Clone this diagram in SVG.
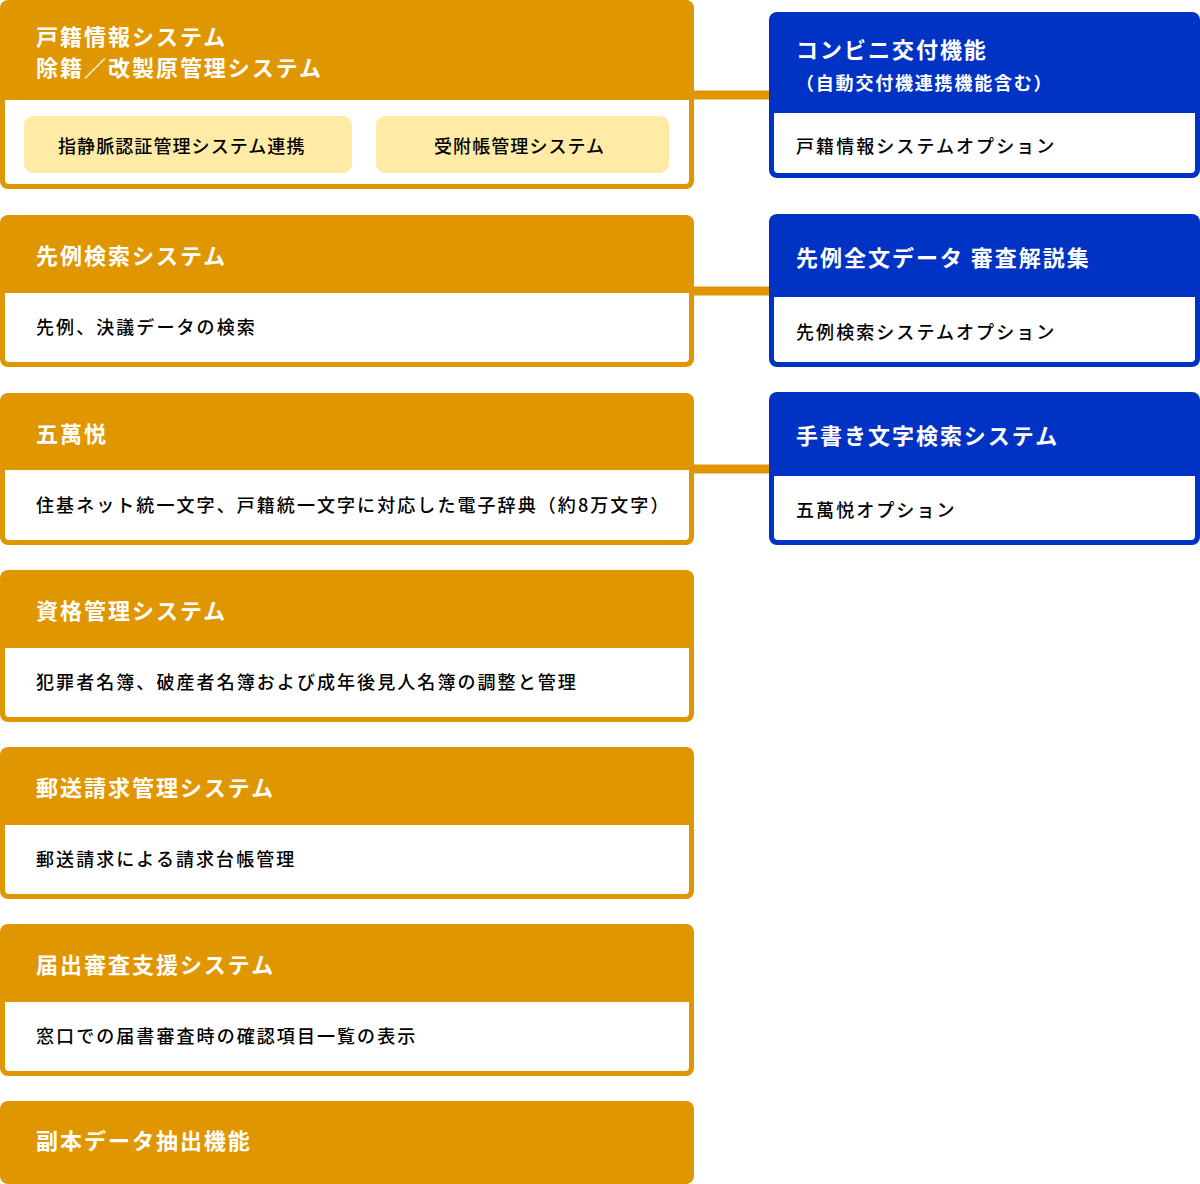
<svg xmlns="http://www.w3.org/2000/svg" width="1200" height="1184" viewBox="0 0 1200 1184">
<style>
.ob{fill:#E09600}
.bb{fill:#0033C4}
.wi{fill:#FFFFFF}
.pill{fill:#FFEBA5}
.t{font-family:"Noto Sans CJK JP","Noto Sans",sans-serif;font-weight:700;font-size:22px;fill:#FFFFFF;letter-spacing:0.09em}
.st{font-family:"Noto Sans CJK JP","Noto Sans",sans-serif;font-weight:700;font-size:18px;fill:#FFFFFF;letter-spacing:0.1em}
.b{font-family:"Noto Sans CJK JP","Noto Sans",sans-serif;font-weight:500;font-size:18px;fill:#000000;letter-spacing:0.115em}
.p{font-family:"Noto Sans CJK JP","Noto Sans",sans-serif;font-weight:500;font-size:18px;fill:#000000;letter-spacing:0.06em}
.c{stroke:#E09600;stroke-width:9;fill:none}
</style>
<rect width="1200" height="1184" fill="#FFFFFF"/>
<g id="connectors">
<line class="c" x1="690" y1="95" x2="772" y2="95"/>
<line class="c" x1="690" y1="291" x2="772" y2="291"/>
<line class="c" x1="690" y1="469" x2="772" y2="469"/>
</g>
<g id="koseki">
<rect class="ob" x="0" y="0" width="694" height="189" rx="8"/>
<path class="wi" d="M5 100H689V180A4 4 0 0 1 685 184H9A4 4 0 0 1 5 180Z"/>
<text class="t" x="36" y="45">戸籍情報システム</text>
<text class="t" x="36" y="76">除籍／改製原管理システム</text>
<rect class="pill" x="24" y="116" width="328" height="57" rx="9"/>
<text class="p" x="58" y="153">指静脈認証管理システム連携</text>
<rect class="pill" x="376" y="116" width="293" height="57" rx="9"/>
<text class="p" x="434" y="153">受附帳管理システム</text>
</g>
<g id="senrei">
<rect class="ob" x="0" y="215" width="694" height="152" rx="8"/>
<path class="wi" d="M5 293H689V358A4 4 0 0 1 685 362H9A4 4 0 0 1 5 358Z"/>
<text class="t" x="36" y="264">先例検索システム</text>
<text class="b" x="36" y="334">先例、決議データの検索</text>
</g>
<g id="gomanetsu">
<rect class="ob" x="0" y="393" width="694" height="152" rx="8"/>
<path class="wi" d="M5 470H689V536A4 4 0 0 1 685 540H9A4 4 0 0 1 5 536Z"/>
<text class="t" x="36" y="442">五萬悦</text>
<text class="b" x="36" y="512">住基ネット統一文字、戸籍統一文字に対応した電子辞典（約8万文字）</text>
</g>
<g id="shikaku">
<rect class="ob" x="0" y="570" width="694" height="152" rx="8"/>
<path class="wi" d="M5 648H689V713A4 4 0 0 1 685 717H9A4 4 0 0 1 5 713Z"/>
<text class="t" x="36" y="619">資格管理システム</text>
<text class="b" x="36" y="689">犯罪者名簿、破産者名簿および成年後見人名簿の調整と管理</text>
</g>
<g id="yuso">
<rect class="ob" x="0" y="747" width="694" height="152" rx="8"/>
<path class="wi" d="M5 825H689V890A4 4 0 0 1 685 894H9A4 4 0 0 1 5 890Z"/>
<text class="t" x="36" y="796">郵送請求管理システム</text>
<text class="b" x="36" y="866">郵送請求による請求台帳管理</text>
</g>
<g id="todokede">
<rect class="ob" x="0" y="924" width="694" height="152" rx="8"/>
<path class="wi" d="M5 1002H689V1067A4 4 0 0 1 685 1071H9A4 4 0 0 1 5 1067Z"/>
<text class="t" x="36" y="973">届出審査支援システム</text>
<text class="b" x="36" y="1043">窓口での届書審査時の確認項目一覧の表示</text>
</g>
<g id="fukuhon">
<rect class="ob" x="0" y="1101" width="694" height="83" rx="8"/>
<text class="t" x="36" y="1149">副本データ抽出機能</text>
</g>
<g id="konbini">
<rect class="bb" x="769" y="12" width="431" height="166" rx="8"/>
<path class="wi" d="M774 113H1195V169A4 4 0 0 1 1191 173H778A4 4 0 0 1 774 169Z"/>
<text class="t" x="796" y="58">コンビニ交付機能</text>
<text class="st" x="796" y="90">（自動交付機連携機能含む）</text>
<text class="b" x="796" y="153">戸籍情報システムオプション</text>
</g>
<g id="senrei-zenbun">
<rect class="bb" x="769" y="214" width="431" height="153" rx="8"/>
<path class="wi" d="M774 297H1195V358A4 4 0 0 1 1191 362H778A4 4 0 0 1 774 358Z"/>
<text class="t" x="796" y="266">先例全文データ 審査解説集</text>
<text class="b" x="796" y="339">先例検索システムオプション</text>
</g>
<g id="tegaki">
<rect class="bb" x="769" y="392" width="431" height="153" rx="8"/>
<path class="wi" d="M774 476H1195V536A4 4 0 0 1 1191 540H778A4 4 0 0 1 774 536Z"/>
<text class="t" x="796" y="444">手書き文字検索システム</text>
<text class="b" x="796" y="517">五萬悦オプション</text>
</g>
</svg>
